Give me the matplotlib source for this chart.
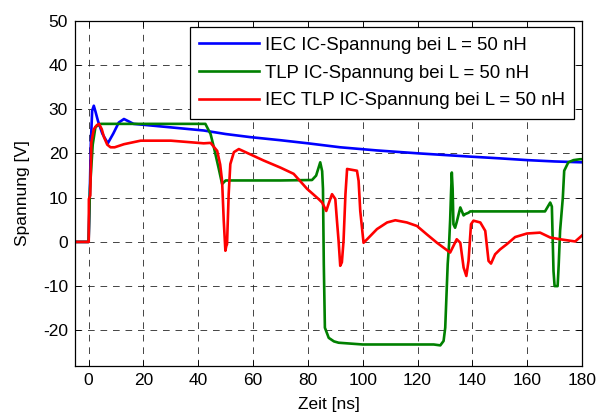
import matplotlib
matplotlib.use("Agg")
import matplotlib.pyplot as plt

plt.rcParams['font.family'] = ['Liberation Sans', 'DejaVu Sans']
plt.rcParams['axes.unicode_minus'] = False

# IEC IC voltage (L = 50 nH)
t_iec = [-5, 0, 0.4, 0.8, 1.3, 1.9, 2.5, 3.4, 5.0, 7.0,
         9.0, 11.0, 12.9, 14.5, 16.4, 25, 33.5, 42, 50, 59,
         70, 80, 91.8, 105, 121, 139, 150, 160, 170, 180]
v_iec = [0, 0, 10, 22, 29.7, 30.8, 29.5, 27.4, 24.5, 22.3,
         24.5, 27.0, 27.8, 27.3, 26.7, 26.2, 25.7, 25.2, 24.4, 23.7,
         23.0, 22.3, 21.4, 20.7, 20.0, 19.3, 18.9, 18.5, 18.2, 18.0]

# TLP IC voltage (L = 50 nH)
t_tlp = [-5, 0, 0.5, 1.5, 2.5, 4.4, 10, 20, 30, 42.6,
         44.5, 45.7, 47.5, 48.7, 50, 60, 70, 81.5, 83.0, 84.5,
         85.2, 85.5, 85.8, 86.2, 87.6, 89.5, 91.2, 100, 110, 120,
         125.9, 128.3, 129.5, 130.1, 131.0, 131.5, 131.9, 132.2, 132.5, 132.8,
         133.1, 133.7, 134.3, 135.6, 136.8, 137.4, 138.6, 139.2, 150, 160,
         166.5, 168.4, 169.0, 169.6, 170.0, 171.1, 171.5, 172, 173, 173.5,
         175, 176.9, 179.3, 180]
v_tlp = [0, 0, 12, 22, 26.0, 26.7, 26.7, 26.7, 26.7, 26.7,
         24.4, 21.4, 16.5, 13.1, 13.9, 13.9, 13.9, 14.0, 15.0, 18.0,
         16.0, 12.0, -5, -19.4, -21.7, -22.5, -22.8, -23.2, -23.2, -23.2,
         -23.2, -23.4, -22.4, -19.4, -5, -0.5, 5, 10.8, 15.7, 12,
         4.0, 3.2, 4.5, 7.8, 6.0, 6.3, 6.6, 6.9, 6.9, 6.9,
         6.9, 8.9, 8.0, -6.6, -10, -10, -5.1, 2.5, 10, 16.1,
         18.0, 18.5, 18.7, 18.7]

# IEC + TLP IC voltage (L = 50 nH)
t_both = [-5, 0.05, 0.1, 0.6, 1.0, 1.9, 3.0, 3.8, 4.8, 5.6,
          6.8, 8.0, 9.5, 12.9, 19, 30, 42, 44.5, 46.9, 48.0,
          48.7, 49.3, 49.9, 50.2, 50.5, 51.1, 51.7, 53.0, 54.8, 63.9,
          70, 74.8, 79.7, 83.9, 85.2, 86.7, 87.6, 88.8, 90, 90.6,
          91.2, 91.8, 92.4, 93.0, 93.7, 94.3, 97.9, 98.5, 99.1, 100.3,
          101.6, 105.2, 108.9, 111.9, 116.1, 119.8, 123.4, 127.1, 129.5, 131.9,
          134.3, 135.6, 136.8, 137.8, 138.6, 139.5, 140.4, 142.9, 144.7, 145.9,
          146.8, 148.3, 150.1, 152.6, 155.6, 159.9, 164.7, 168.4, 172, 177.5,
          179.9]
v_both = [0, 0, 9.7, 10.5, 22.5, 25.5, 26.4, 26.7, 25.5, 23.7,
          22.0, 21.4, 21.4, 22.1, 22.9, 22.9, 22.3, 22.4, 20.6, 17.5,
          13.8, 4.8, -2.0, -1.0, -0.5, 10.8, 17.6, 20.3, 21.0, 18.4,
          16.8, 15.4, 12.0, 9.7, 8.9, 7.0, 8.7, 10.8, 9.7, 4.8,
          0.2, -5.4, -4.6, 0.2, 10.8, 16.5, 16.1, 13.8, 7.0, -0.2,
          0.6, 2.9, 4.4, 4.9, 4.4, 3.6, 1.7, -0.2, -1.3, -2.4,
          0.6, -0.2, -5.8, -7.7, -4.3, 4.0, 4.8, 4.4, 2.5, -4.3,
          -4.9, -2.8, -1.7, -0.5, 1.1, 1.9, 2.1, 1.0, 0.6, 0.1,
          1.4]

labels = ["IEC IC-Spannung bei L = 50 nH",
          "TLP IC-Spannung bei L = 50 nH",
          "IEC TLP IC-Spannung bei L = 50 nH"]
colors = ["#0000ff", "#008000", "#ff0000"]

x_ticks = list(range(0, 181, 20))
y_ticks = list(range(-20, 51, 10))

fig = plt.figure(figsize=(6.04, 4.17), dpi=100)
ax = fig.add_axes([0.124, 0.123, 0.8396, 0.827])

for t, v, c, lab in zip([t_iec, t_tlp, t_both], [v_iec, v_tlp, v_both], colors, labels):
    ax.plot(t, v, color=c, linewidth=1.9, label=lab, solid_joinstyle='round')

ax.set_xlim(-5, 180)
ax.set_ylim(-28, 50)
ax.set_xticks(x_ticks)
ax.set_yticks(y_ticks)
ax.tick_params(direction='in', top=True, right=True, length=4, width=0.6,
               labelsize=12.5, pad=5)
ax.grid(True, color='0.15', linestyle=(0, (8, 7)), linewidth=0.6)
for s in ax.spines.values():
    s.set_linewidth(0.9)

ax.set_xlabel("Zeit [ns]", fontsize=12.5, labelpad=7)
ax.set_ylabel("Spannung [V]", fontsize=12.5, labelpad=9)

leg = ax.legend(loc='upper right', bbox_to_anchor=(0.985, 0.981), fontsize=13.4,
                fancybox=False, edgecolor='k', framealpha=1, handlelength=3.2,
                labelspacing=0.58, borderpad=0.5, handletextpad=0.35,
                borderaxespad=0)
leg.get_frame().set_linewidth(0.9)

fig.savefig("out.png", dpi=100)
